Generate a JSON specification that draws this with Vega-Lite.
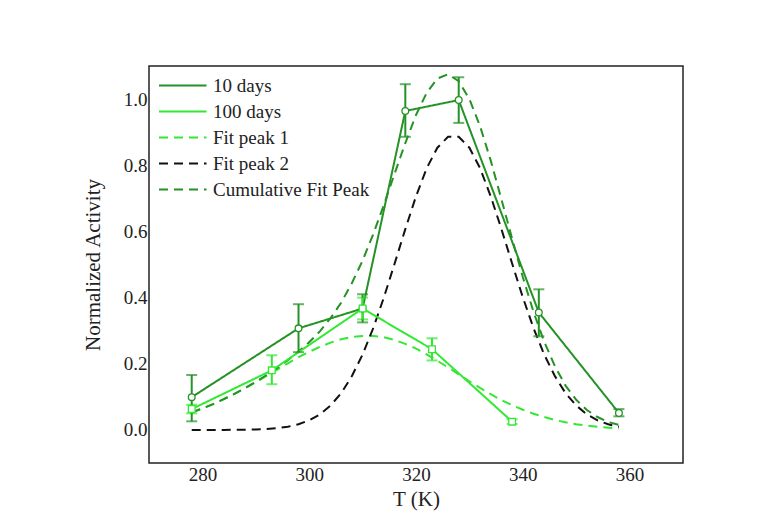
{
  "$schema": "https://vega.github.io/schema/vega-lite/v6.json",
  "width": 534,
  "height": 397,
  "autosize": "none",
  "padding": {"left": 149, "top": 66, "right": 92, "bottom": 59},
  "background": "white",
  "config": {
    "font": "Liberation Serif",
    "view": {"stroke": "#222", "strokeWidth": 1.5},
    "axis": {"grid": false, "domain": false, "ticks": false, "labelFont": "Liberation Serif", "titleFont": "Liberation Serif", "labelFontSize": 19, "titleFontSize": 21, "labelColor": "#222", "titleColor": "#222", "titleFontWeight": "normal"}
  },
  "datasets": {
    "fits": [
      {"T":278,"series":"Fit peak 1","value":0.053},{"T":280,"series":"Fit peak 1","value":0.065},{"T":282,"series":"Fit peak 1","value":0.078},{"T":284,"series":"Fit peak 1","value":0.093},{"T":286,"series":"Fit peak 1","value":0.109},{"T":288,"series":"Fit peak 1","value":0.126},{"T":290,"series":"Fit peak 1","value":0.144},{"T":292,"series":"Fit peak 1","value":0.163},{"T":294,"series":"Fit peak 1","value":0.182},{"T":296,"series":"Fit peak 1","value":0.201},{"T":298,"series":"Fit peak 1","value":0.220},{"T":300,"series":"Fit peak 1","value":0.236},{"T":302,"series":"Fit peak 1","value":0.251},{"T":304,"series":"Fit peak 1","value":0.264},{"T":306,"series":"Fit peak 1","value":0.274},{"T":308,"series":"Fit peak 1","value":0.281},{"T":310,"series":"Fit peak 1","value":0.284},{"T":312,"series":"Fit peak 1","value":0.284},{"T":314,"series":"Fit peak 1","value":0.280},{"T":316,"series":"Fit peak 1","value":0.272},{"T":318,"series":"Fit peak 1","value":0.260},{"T":320,"series":"Fit peak 1","value":0.246},{"T":322,"series":"Fit peak 1","value":0.228},{"T":324,"series":"Fit peak 1","value":0.209},{"T":326,"series":"Fit peak 1","value":0.189},{"T":328,"series":"Fit peak 1","value":0.168},{"T":330,"series":"Fit peak 1","value":0.147},{"T":332,"series":"Fit peak 1","value":0.127},{"T":334,"series":"Fit peak 1","value":0.108},{"T":336,"series":"Fit peak 1","value":0.090},{"T":338,"series":"Fit peak 1","value":0.075},{"T":340,"series":"Fit peak 1","value":0.061},{"T":342,"series":"Fit peak 1","value":0.049},{"T":344,"series":"Fit peak 1","value":0.039},{"T":346,"series":"Fit peak 1","value":0.030},{"T":348,"series":"Fit peak 1","value":0.023},{"T":350,"series":"Fit peak 1","value":0.017},{"T":352,"series":"Fit peak 1","value":0.013},{"T":354,"series":"Fit peak 1","value":0.0095},{"T":356,"series":"Fit peak 1","value":0.0069},{"T":358,"series":"Fit peak 1","value":0.0049},
      {"T":278,"series":"Fit peak 2","value":0.0},{"T":280,"series":"Fit peak 2","value":0.0},{"T":282,"series":"Fit peak 2","value":0.0001},{"T":284,"series":"Fit peak 2","value":0.0001},{"T":286,"series":"Fit peak 2","value":0.0003},{"T":288,"series":"Fit peak 2","value":0.0007},{"T":290,"series":"Fit peak 2","value":0.0014},{"T":292,"series":"Fit peak 2","value":0.0028},{"T":294,"series":"Fit peak 2","value":0.0053},{"T":296,"series":"Fit peak 2","value":0.0096},{"T":298,"series":"Fit peak 2","value":0.017},{"T":300,"series":"Fit peak 2","value":0.029},{"T":302,"series":"Fit peak 2","value":0.047},{"T":304,"series":"Fit peak 2","value":0.074},{"T":306,"series":"Fit peak 2","value":0.111},{"T":308,"series":"Fit peak 2","value":0.163},{"T":310,"series":"Fit peak 2","value":0.228},{"T":312,"series":"Fit peak 2","value":0.308},{"T":314,"series":"Fit peak 2","value":0.401},{"T":316,"series":"Fit peak 2","value":0.503},{"T":318,"series":"Fit peak 2","value":0.607},{"T":320,"series":"Fit peak 2","value":0.706},{"T":322,"series":"Fit peak 2","value":0.791},{"T":324,"series":"Fit peak 2","value":0.853},{"T":326,"series":"Fit peak 2","value":0.886},{"T":328,"series":"Fit peak 2","value":0.886},{"T":330,"series":"Fit peak 2","value":0.853},{"T":332,"series":"Fit peak 2","value":0.791},{"T":334,"series":"Fit peak 2","value":0.706},{"T":336,"series":"Fit peak 2","value":0.607},{"T":338,"series":"Fit peak 2","value":0.503},{"T":340,"series":"Fit peak 2","value":0.401},{"T":342,"series":"Fit peak 2","value":0.308},{"T":344,"series":"Fit peak 2","value":0.228},{"T":346,"series":"Fit peak 2","value":0.163},{"T":348,"series":"Fit peak 2","value":0.111},{"T":350,"series":"Fit peak 2","value":0.074},{"T":352,"series":"Fit peak 2","value":0.047},{"T":354,"series":"Fit peak 2","value":0.029},{"T":356,"series":"Fit peak 2","value":0.017},{"T":358,"series":"Fit peak 2","value":0.0096},
      {"T":278,"series":"Cumulative Fit Peak","value":0.053},{"T":280,"series":"Cumulative Fit Peak","value":0.065},{"T":282,"series":"Cumulative Fit Peak","value":0.078},{"T":284,"series":"Cumulative Fit Peak","value":0.093},{"T":286,"series":"Cumulative Fit Peak","value":0.109},{"T":288,"series":"Cumulative Fit Peak","value":0.127},{"T":290,"series":"Cumulative Fit Peak","value":0.145},{"T":292,"series":"Cumulative Fit Peak","value":0.166},{"T":294,"series":"Cumulative Fit Peak","value":0.187},{"T":296,"series":"Cumulative Fit Peak","value":0.211},{"T":298,"series":"Cumulative Fit Peak","value":0.237},{"T":300,"series":"Cumulative Fit Peak","value":0.265},{"T":302,"series":"Cumulative Fit Peak","value":0.298},{"T":304,"series":"Cumulative Fit Peak","value":0.338},{"T":306,"series":"Cumulative Fit Peak","value":0.385},{"T":308,"series":"Cumulative Fit Peak","value":0.444},{"T":310,"series":"Cumulative Fit Peak","value":0.512},{"T":312,"series":"Cumulative Fit Peak","value":0.592},{"T":314,"series":"Cumulative Fit Peak","value":0.681},{"T":316,"series":"Cumulative Fit Peak","value":0.775},{"T":318,"series":"Cumulative Fit Peak","value":0.867},{"T":320,"series":"Cumulative Fit Peak","value":0.952},{"T":322,"series":"Cumulative Fit Peak","value":1.019},{"T":324,"series":"Cumulative Fit Peak","value":1.062},{"T":326,"series":"Cumulative Fit Peak","value":1.075},{"T":328,"series":"Cumulative Fit Peak","value":1.054},{"T":330,"series":"Cumulative Fit Peak","value":1.000},{"T":332,"series":"Cumulative Fit Peak","value":0.918},{"T":334,"series":"Cumulative Fit Peak","value":0.814},{"T":336,"series":"Cumulative Fit Peak","value":0.697},{"T":338,"series":"Cumulative Fit Peak","value":0.578},{"T":340,"series":"Cumulative Fit Peak","value":0.462},{"T":342,"series":"Cumulative Fit Peak","value":0.357},{"T":344,"series":"Cumulative Fit Peak","value":0.267},{"T":346,"series":"Cumulative Fit Peak","value":0.193},{"T":348,"series":"Cumulative Fit Peak","value":0.134},{"T":350,"series":"Cumulative Fit Peak","value":0.091},{"T":352,"series":"Cumulative Fit Peak","value":0.060},{"T":354,"series":"Cumulative Fit Peak","value":0.039},{"T":356,"series":"Cumulative Fit Peak","value":0.024},{"T":358,"series":"Cumulative Fit Peak","value":0.015}
    ],
    "obs": [
      {"T":278,"series":"10 days","value":0.099,"lo":0.026,"hi":0.166},
      {"T":298,"series":"10 days","value":0.307,"lo":0.235,"hi":0.38},
      {"T":310,"series":"10 days","value":0.367,"lo":0.325,"hi":0.41},
      {"T":318,"series":"10 days","value":0.964,"lo":0.886,"hi":1.045},
      {"T":328,"series":"10 days","value":0.997,"lo":0.928,"hi":1.066},
      {"T":343,"series":"10 days","value":0.355,"lo":0.283,"hi":0.425},
      {"T":358,"series":"10 days","value":0.051,"lo":0.041,"hi":0.063},
      {"T":278,"series":"100 days","value":0.063,"lo":0.05,"hi":0.076},
      {"T":293,"series":"100 days","value":0.18,"lo":0.138,"hi":0.226},
      {"T":310,"series":"100 days","value":0.367,"lo":0.334,"hi":0.40},
      {"T":323,"series":"100 days","value":0.244,"lo":0.21,"hi":0.277},
      {"T":338,"series":"100 days","value":0.025,"lo":0.018,"hi":0.032}
    ]
  },
  "layer": [
    {
      "data": {"name": "fits"},
      "mark": {"type": "line", "strokeWidth": 2},
      "encoding": {
        "x": {"field": "T", "type": "quantitative", "title": "T (K)", "scale": {"domain": [270, 370], "nice": false}, "axis": {"values": [280, 300, 320, 340, 360], "labelPadding": 2, "titlePadding": 4}},
        "y": {"field": "value", "type": "quantitative", "title": "Normalized Activity", "scale": {"domain": [-0.1, 1.1], "nice": false}, "axis": {"values": [0, 0.2, 0.4, 0.6, 0.8, 1.0], "format": ".1f", "labelPadding": 2, "titlePadding": 20}},
        "color": {"field": "series", "type": "nominal", "title": null,
          "scale": {"domain": ["10 days", "100 days", "Fit peak 1", "Fit peak 2", "Cumulative Fit Peak"], "range": ["#259225", "#33e833", "#33e833", "#111111", "#259225"]},
          "legend": {"orient": "top-left", "offset": 9, "symbolType": "M-1,0H4", "symbolSize": 361, "symbolStrokeWidth": 2, "labelFontSize": 19, "labelFont": "Liberation Serif", "labelColor": "#222", "rowPadding": 5, "labelOffset": 34, "padding": 0, "fillColor": null, "strokeColor": null}},
        "strokeDash": {"field": "series", "type": "nominal", "title": null,
          "scale": {"domain": ["10 days", "100 days", "Fit peak 1", "Fit peak 2", "Cumulative Fit Peak"], "range": [[1, 0], [1, 0], [9, 6], [9, 6], [9, 6]]}}
      }
    },
    {
      "data": {"name": "obs"},
      "mark": {"type": "line", "strokeWidth": 2},
      "encoding": {
        "x": {"field": "T", "type": "quantitative", "title": "T (K)"},
        "y": {"field": "value", "type": "quantitative", "title": "Normalized Activity"},
        "color": {"field": "series", "type": "nominal", "title": null},
        "strokeDash": {"field": "series", "type": "nominal", "title": null}
      }
    },
    {
      "data": {"name": "obs"},
      "mark": {"type": "errorbar", "ticks": {"size": 11, "thickness": 2}, "rule": {"strokeWidth": 2}},
      "encoding": {
        "x": {"field": "T", "type": "quantitative", "title": "T (K)"},
        "y": {"field": "lo", "type": "quantitative", "title": "Normalized Activity"},
        "y2": {"field": "hi"},
        "color": {"field": "series", "type": "nominal", "title": null, "legend": null}
      }
    },
    {
      "data": {"name": "obs"},
      "mark": {"type": "point", "filled": false, "fill": "white", "fillOpacity": 1, "strokeWidth": 1.3, "size": 45, "opacity": 1},
      "encoding": {
        "x": {"field": "T", "type": "quantitative", "title": "T (K)"},
        "y": {"field": "value", "type": "quantitative", "title": "Normalized Activity"},
        "color": {"field": "series", "type": "nominal", "title": null, "legend": null},
        "shape": {"field": "series", "type": "nominal", "legend": null, "scale": {"domain": ["10 days", "100 days"], "range": ["circle", "square"]}}
      }
    }
  ]
}
